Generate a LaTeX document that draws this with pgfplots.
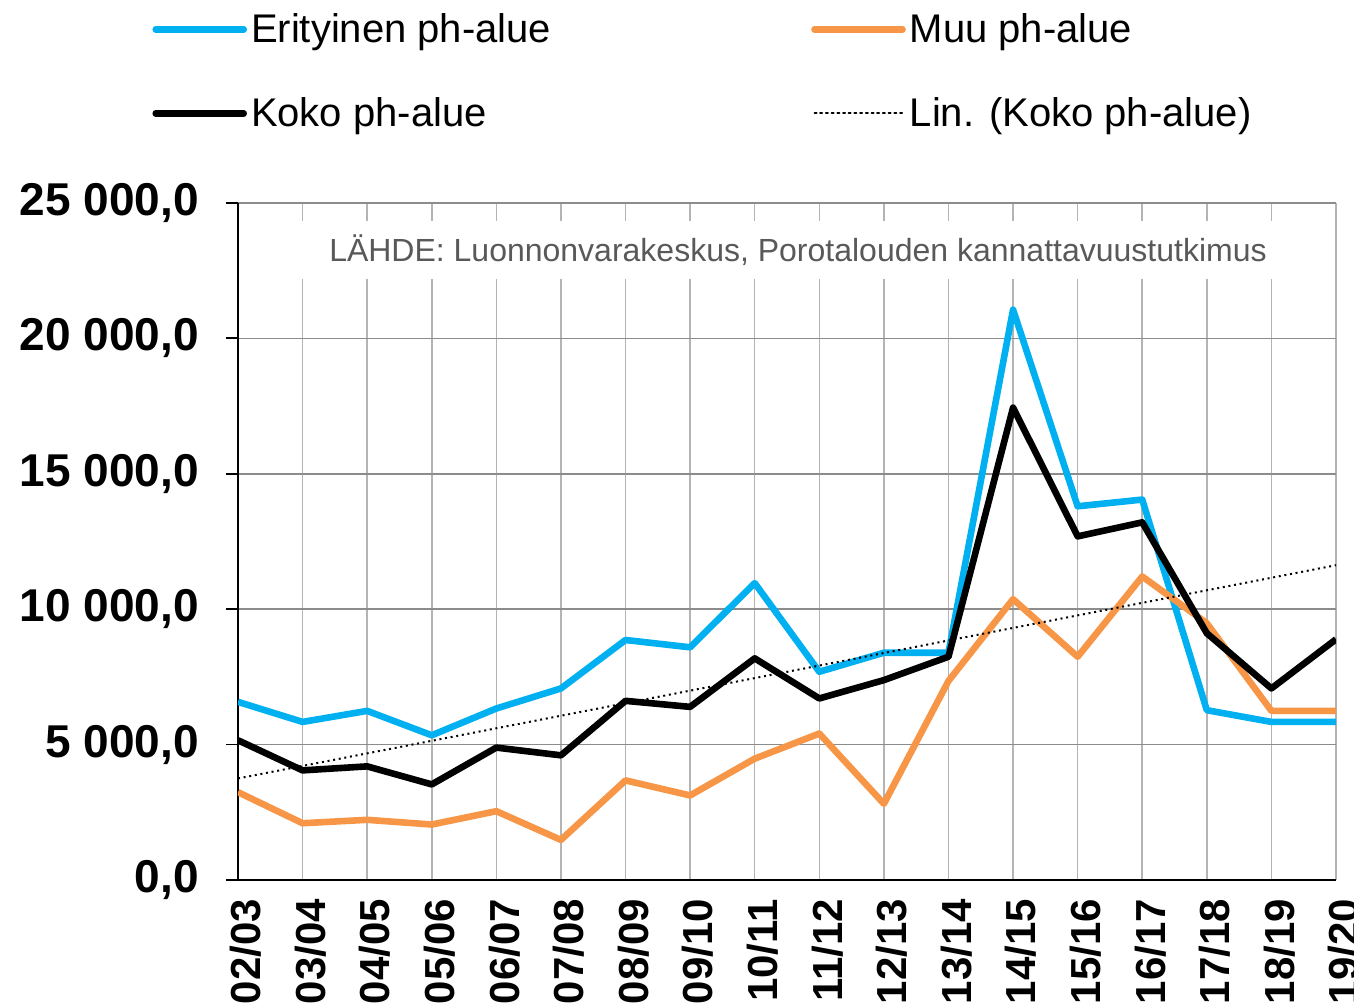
\documentclass[border=0pt]{standalone}
\usepackage{pgfplots}
\usepackage{pgfplotstable}
\pgfplotsset{compat=1.18}
\usepackage{fontspec}
\setmainfont{Liberation Sans}
\definecolor{eri}{HTML}{00B0F0}
\definecolor{muu}{HTML}{F79646}
\definecolor{vgrid}{HTML}{B4B4B4}
\definecolor{hgrid}{HTML}{8C8C8C}
\definecolor{src}{HTML}{595959}

\pgfplotstableread{
x lab eri muu koko
0 02/03 6578 3244 5160
1 03/04 5837 2096 4048
2 04/05 6245 2222 4196
3 05/06 5344 2048 3530
4 06/07 6333 2541 4889
5 07/08 7074 1481 4604
6 08/09 8863 3678 6615
7 09/10 8593 3122 6393
8 10/11 10963 4481 8185
9 11/12 7689 5407 6704
10 12/13 8393 2815 7381
11 13/14 8393 7350 8244
12 14/15 21060 10370 17444
13 15/16 13800 8244 12689
14 16/17 14048 11207 13207
15 17/18 6270 9481 9111
16 18/19 5837 6244 7074
17 19/20 5837 6244 8889
}\data

\begin{document}
\begin{tikzpicture}
\begin{axis}[name=ax, at={(0,0)}, anchor=south west,
  scale only axis, width=549pt, height=338.5pt,
  xmin=0, xmax=17, ymin=0, ymax=25000,
  scaled y ticks=false,
  xtick={0,...,17}, xticklabels from table={\data}{lab},
  ytick={0,5000,...,25000},
  yticklabels={{0,0},{5 000,0},{10 000,0},{15 000,0},{20 000,0},{25 000,0}},
  grid=major,
  x grid style={vgrid, line width=0.75pt},
  y grid style={hgrid, line width=0.75pt},
  axis x line*=bottom, axis y line*=left,
  axis line style={black, line width=0.9pt},
  tick align=outside, major tick length=6pt,
  ytick style={black, line width=0.9pt},
  xtick style={draw=none},
  yticklabel style={font=\fontsize{23}{26}\selectfont\bfseries, anchor=east, xshift=-10pt},
  xticklabel style={font=\fontsize{21}{24}\selectfont\bfseries, rotate=90, anchor=east, yshift=-4pt},
  legend columns=2,
  legend cell align=left,
  legend image code/.code={\draw[#1, line cap=round] (0pt,0pt) -- (44pt,0pt);},
  legend style={draw=none, fill=none, font=\fontsize{20}{24}\selectfont,
    at={(-0.0783,1.2866)}, anchor=north west, inner sep=0pt,
    row sep=22pt,
    /tikz/every even column/.append style={column sep=128pt}},
]
\addplot[eri, line width=3.3pt, line join=round] table[x=x, y=eri] {\data};
\addlegendentry{Erityinen ph-alue}
\addplot[muu, line width=3.3pt, line join=round] table[x=x, y=muu] {\data};
\addlegendentry{Muu ph-alue}
\addplot[black, line width=3.3pt, line join=round] table[x=x, y=koko] {\data};
\addlegendentry{Koko ph-alue}
\addplot[black, line width=1pt, dash pattern=on 1pt off 1.85pt] table[x=x, y={create col/linear regression={y=koko}}] {\data};
\addlegendentry{Lin. (Koko ph-alue)}
\node[fill=white, text=src, font=\fontsize{16}{19}\selectfont, inner xsep=25pt, inner ysep=7pt] at (axis cs:8.67,23264) {LÄHDE: Luonnonvarakeskus, Porotalouden kannattavuustutkimus};
\end{axis}
\pgfresetboundingbox
\path[use as bounding box] ([shift={(-119pt,-62.5pt)}]ax.south west) rectangle ([shift={(558pt,440pt)}]ax.south west);
\end{tikzpicture}
\end{document}
